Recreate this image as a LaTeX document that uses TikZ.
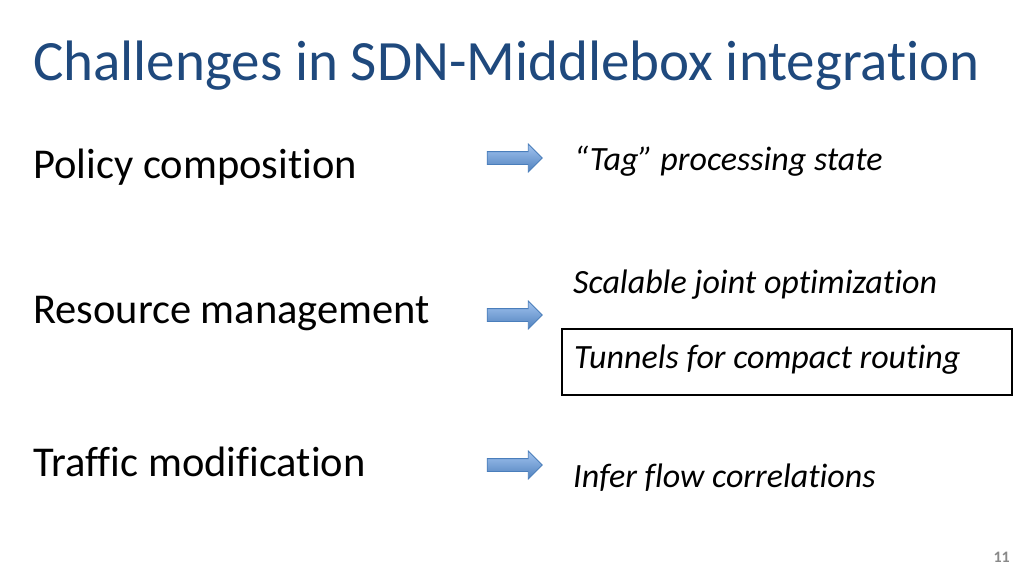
\documentclass[tikz,border=0pt]{standalone}
\usepackage{fontspec}
\setmainfont{Carlito}[Ligatures=NoCommon]
\usetikzlibrary{shapes.arrows}
\definecolor{titleBlue}{RGB}{31,73,125}
\definecolor{arrowTop}{RGB}{163,196,240}
\definecolor{arrowBottom}{RGB}{79,129,189}
\definecolor{arrowLine}{RGB}{74,126,187}
\definecolor{pageGrey}{RGB}{137,137,137}
\begin{document}
\begin{tikzpicture}
[x=1pt,y=-1pt,
  titleText/.style={anchor=base west,inner sep=0pt,text=titleBlue,
    font=\fontsize{57}{64}\selectfont},
  leftText/.style={anchor=base west,inner sep=0pt,
    font=\fontsize{42.5}{48}\selectfont},
  rightText/.style={anchor=base west,inner sep=0pt,
    font=\fontsize{34}{40}\selectfont\itshape},
  arrowDecorate/.style={single arrow,single arrow head extend=7.5pt,
    single arrow head indent=0pt,minimum width=27pt,minimum height=55pt,
    inner xsep=0pt,inner ysep=6pt,top color=arrowTop,bottom color=arrowBottom,
    draw=arrowLine,line width=0.8pt},
  boxDecorate/.style={draw,line width=1.6pt,minimum width=450pt,
    minimum height=66pt,inner sep=0pt}]
\useasboundingbox[fill=white] (0,0) rectangle (1024,576);
%% title
\node (title) at (33,80) [titleText] {Challenges in SDN-Middlebox integration};
%% challenges and arrows
\foreach \nodename/\y/\ay/\label in {
  policy/178/158/Policy composition,
  resource/323/315/Resource management,
  traffic/476/465/Traffic modification}
{
  \node (\nodename) at (33,\y) [leftText] {\label};
  \node (\nodename Arrow) at (511.5,\ay) [arrowDecorate] {};
}
%% answers
\node (tag) at (574,170) [rightText] {“Tag” processing state};
\node (scalable) at (573,293) [rightText] {Scalable joint optimization};
\node (tunnels) at (574,368) [rightText] {Tunnels for compact routing};
\node (tunnelBox) at (787,362) [boxDecorate] {};
\node (infer) at (573,487) [rightText] {Infer flow correlations};
%% page number
\node (page) at (1010,562) [anchor=base east,inner sep=0pt,text=pageGrey,
  font=\fontsize{16}{18}\selectfont\bfseries] {11};
\end{tikzpicture}
\end{document}
